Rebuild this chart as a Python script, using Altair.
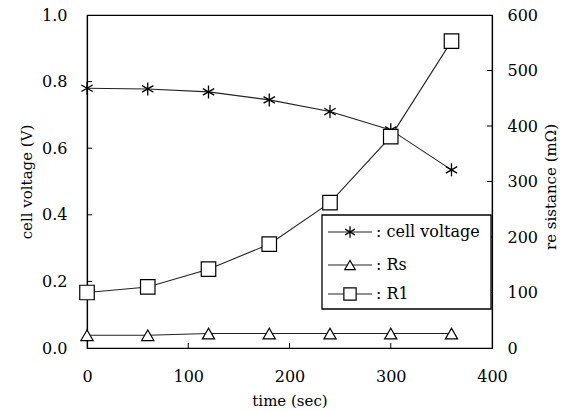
import altair as alt
import pandas as pd

# ---- data ----
time_s = [0, 60, 120, 180, 240, 300, 360]
cell_voltage = [0.78, 0.778, 0.769, 0.745, 0.71, 0.655, 0.535]
rs_mohm = [23, 23, 26, 26, 26, 26, 26]
r1_mohm = [100, 110, 142, 187, 262, 381, 553]

x_ticks = [0, 100, 200, 300, 400]
v_ticks = [0.0, 0.2, 0.4, 0.6, 0.8, 1.0]
r_ticks = [0, 100, 200, 300, 400, 500, 600]
x_inner = [100, 200, 300]
v_inner = [0.2, 0.4, 0.6, 0.8]
r_inner = [100, 200, 300, 400, 500]

legend_names = [": cell voltage", ": Rs", ": R1"]

FONT = "DejaVu Serif"
W, H = 405, 333
ASTERISK = "M0,-1L0,1M-0.87,-0.5L0.87,0.5M-0.87,0.5L0.87,-0.5"

df_v = pd.DataFrame({"t": time_s, "v": cell_voltage})
df_rs = pd.DataFrame({"t": time_s, "r": rs_mohm})
df_r1 = pd.DataFrame({"t": time_s, "r": r1_mohm})

axis_font = dict(labelFont=FONT, titleFont=FONT, labelFontSize=16, titleFontSize=15,
                 labelColor="black", titleColor="black", titleFontWeight="normal",
                 domainColor="black", domainWidth=1.2, ticks=False, tickSize=0, grid=False)

xs = alt.Scale(domain=[0, 400], nice=False, zero=False)
x_enc = alt.X("t:Q", scale=xs, axis=alt.Axis(
    title="time (sec)", values=x_ticks, format="d", labelFlush=False,
    labelPadding=20, titleY=52, titleBaseline="middle", **axis_font))

vs = alt.Scale(domain=[0, 1], nice=False)
rsc = alt.Scale(domain=[0, 600], nice=False)

v_axis = alt.Axis(title="cell voltage (V)", values=v_ticks, format=".1f",
                  labelPadding=20,
                  titleX=-61, titleY=H / 2, titleAngle=270, titleAlign="center",
                  titleBaseline="middle", **axis_font)
r_axis = alt.Axis(title="re sistance (mΩ)", orient="right", values=r_ticks, format="d",
                  labelPadding=15,
                  titleX=58, titleY=H / 2 + 5, titleAngle=270, titleAlign="center",
                  titleBaseline="middle", **axis_font)

line_style = dict(color="#222222", strokeWidth=1.1)

v_line = alt.Chart(df_v).mark_line(**line_style).encode(
    x=x_enc, y=alt.Y("v:Q", scale=vs, axis=v_axis))
v_pts = alt.Chart(df_v).mark_point(shape=ASTERISK, size=170, stroke="black",
                                   strokeWidth=1.3, opacity=1).encode(
    x=alt.X("t:Q", scale=xs), y=alt.Y("v:Q", scale=vs))
v_tk = alt.Chart(pd.DataFrame({"v": v_inner})).mark_rule(color="black", strokeWidth=1).encode(
    y=alt.Y("v:Q", scale=vs), x=alt.value(0), x2=alt.value(5))
x_tk = alt.Chart(pd.DataFrame({"t": x_inner})).mark_rule(color="black", strokeWidth=1).encode(
    x=alt.X("t:Q", scale=xs), y=alt.value(H), y2=alt.value(H - 5))

left = alt.layer(v_line, v_pts, v_tk, x_tk)

rs_line = alt.Chart(df_rs).mark_line(**line_style).encode(
    x=alt.X("t:Q", scale=xs), y=alt.Y("r:Q", scale=rsc, axis=r_axis))
r1_line = alt.Chart(df_r1).mark_line(**line_style).encode(
    x=alt.X("t:Q", scale=xs), y=alt.Y("r:Q", scale=rsc))
rs_pts = alt.Chart(df_rs).mark_point(shape="triangle-up", size=150, filled=True,
                                     fill="white", stroke="black", strokeWidth=1.2,
                                     opacity=1).encode(
    x=alt.X("t:Q", scale=xs), y=alt.Y("r:Q", scale=rsc))
r1_pts = alt.Chart(df_r1).mark_point(shape="square", size=210, filled=True,
                                     fill="white", stroke="black", strokeWidth=1.2,
                                     opacity=1).encode(
    x=alt.X("t:Q", scale=xs), y=alt.Y("r:Q", scale=rsc))
r_tk = alt.Chart(pd.DataFrame({"r": r_inner})).mark_rule(color="black", strokeWidth=1).encode(
    y=alt.Y("r:Q", scale=rsc), x=alt.value(W - 5), x2=alt.value(W))

right = alt.layer(rs_line, r1_line, rs_pts, r1_pts, r_tk)

# ---- legend box (pixel layout) ----
leg_y = [217, 250, 279]
df_leg = pd.DataFrame({"name": legend_names, "py": leg_y})
box = alt.Chart(pd.DataFrame({"a": [0]})).mark_rect(
    fill="white", stroke="black", strokeWidth=1.3).encode(
    x=alt.value(235), x2=alt.value(404), y=alt.value(200), y2=alt.value(294))
leg_layers = [box]
shapes = [ASTERISK, "triangle-up", "square"]
sizes = [130, 110, 150]
for i, nm in enumerate(legend_names):
    d = df_leg.iloc[[i]]
    leg_layers.append(alt.Chart(d).mark_rule(color="#222222", strokeWidth=1.1).encode(
        x=alt.value(241), x2=alt.value(285), y=alt.value(leg_y[i])))
    if i == 0:
        leg_layers.append(alt.Chart(d).mark_point(shape=shapes[i], size=sizes[i], stroke="black",
                                                  strokeWidth=1.3, opacity=1).encode(
            x=alt.value(263), y=alt.value(leg_y[i])))
    else:
        leg_layers.append(alt.Chart(d).mark_point(shape=shapes[i], size=sizes[i], filled=True,
                                                  fill="white", stroke="black", strokeWidth=1.2,
                                                  opacity=1).encode(
            x=alt.value(263), y=alt.value(leg_y[i])))
    leg_layers.append(alt.Chart(d).mark_text(font=FONT, fontSize=16, align="left",
                                             baseline="middle", color="black").encode(
        x=alt.value(289), y=alt.value(leg_y[i]), text="name:N"))

legend = alt.layer(*leg_layers)

chart = alt.layer(left, right, legend).resolve_scale(y="independent").properties(
    width=W, height=H,
    background="white",
    autosize=alt.AutoSizeParams(type="none"),
    padding={"left": 87, "top": 15, "right": 75, "bottom": 63},
).configure_view(stroke="black", strokeWidth=1.2)

chart.save("out.html", embed_options={"renderer": "svg", "actions": False})
